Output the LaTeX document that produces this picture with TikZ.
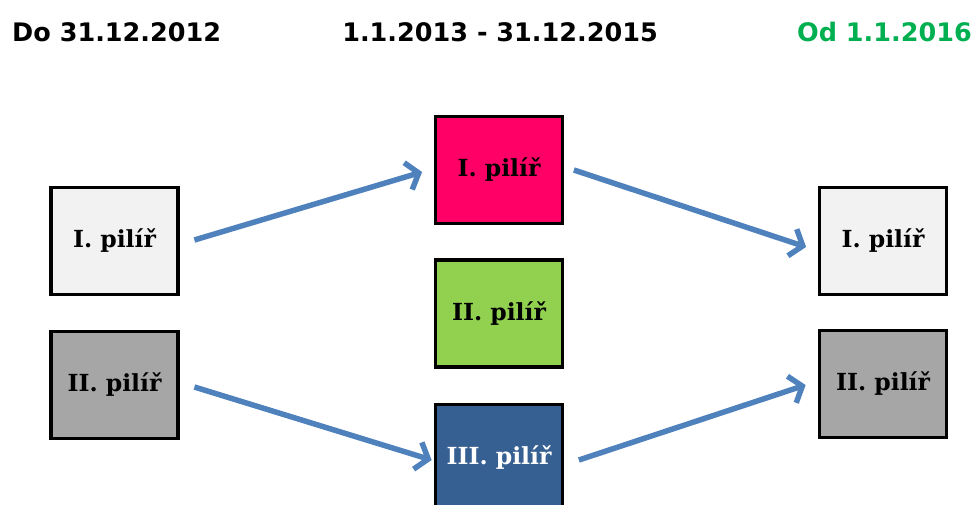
\documentclass[tikz,border=0pt]{standalone}
\usepackage{fontspec}
\setmainfont{DejaVu Serif}
\newfontfamily\headfont{DejaVu Sans}
\usetikzlibrary{arrows.meta}
\definecolor{lightgrey}{HTML}{F2F2F2}
\definecolor{midgrey}{HTML}{A6A6A6}
\definecolor{pillarpink}{HTML}{FF0066}
\definecolor{pillargreen}{HTML}{92D050}
\definecolor{pillarblue}{HTML}{376092}
\definecolor{headgreen}{HTML}{00B050}
\definecolor{arrowblue}{HTML}{4F81BD}
\begin{document}
\begin{tikzpicture}[x=1pt,y=-1pt,
    pillar/.style={draw=black, line width=3.8pt, minimum width=127pt, minimum height=107pt,
      inner sep=0pt, font=\fontsize{23.5}{23.5}\selectfont\bfseries},
    head/.style={font=\headfont\fontsize{25.5}{25.5}\selectfont\bfseries, inner sep=0pt},
    flow/.style={draw=arrowblue, line width=5.5pt, -{Straight Barb[length=11pt,width=28pt]}}]
  \useasboundingbox (0,0) rectangle (976,504);
  \clip (0,0) rectangle (976,504);
  % headings
  \node[head, anchor=west] (h1) at (12,32) {Do 31.12.2012};
  \node[head] (h2) at (500,32) {1.1.2013 - 31.12.2015};
  \node[head, anchor=east, text=headgreen] (h3) at (972,32) {Od 1.1.2016};
  % pillars
  \node[pillar, fill=lightgrey] (l1) at (114.5,241) {I. pilíř};
  \node[pillar, fill=midgrey] (l2) at (114.5,385) {II. pilíř};
  \node[pillar, fill=pillarpink] (m1) at (499,170) {I. pilíř};
  \node[pillar, fill=pillargreen] (m2) at (499,313.5) {II. pilíř};
  \node[pillar, fill=pillarblue, text=white] (m3) at (499,458) {III. pilíř};
  \node[pillar, fill=lightgrey] (r1) at (883,241) {I. pilíř};
  \node[pillar, fill=midgrey] (r2) at (883,384) {II. pilíř};
  % transfers
  \draw[flow] ([xshift=14.5pt,yshift=1pt]l1.east) -- ([xshift=-11.5pt,yshift=-2pt]m1.west);
  \draw[flow] ([xshift=9.5pt]m1.east) -- ([xshift=-11.5pt,yshift=-6pt]r1.west);
  \draw[flow] ([xshift=14.5pt,yshift=-2pt]l2.east) -- ([xshift=-2pt,yshift=-2pt]m3.west);
  \draw[flow] ([xshift=14.5pt,yshift=-2pt]m3.east) -- ([xshift=-12pt,yshift=-1pt]r2.west);
\end{tikzpicture}
\end{document}
